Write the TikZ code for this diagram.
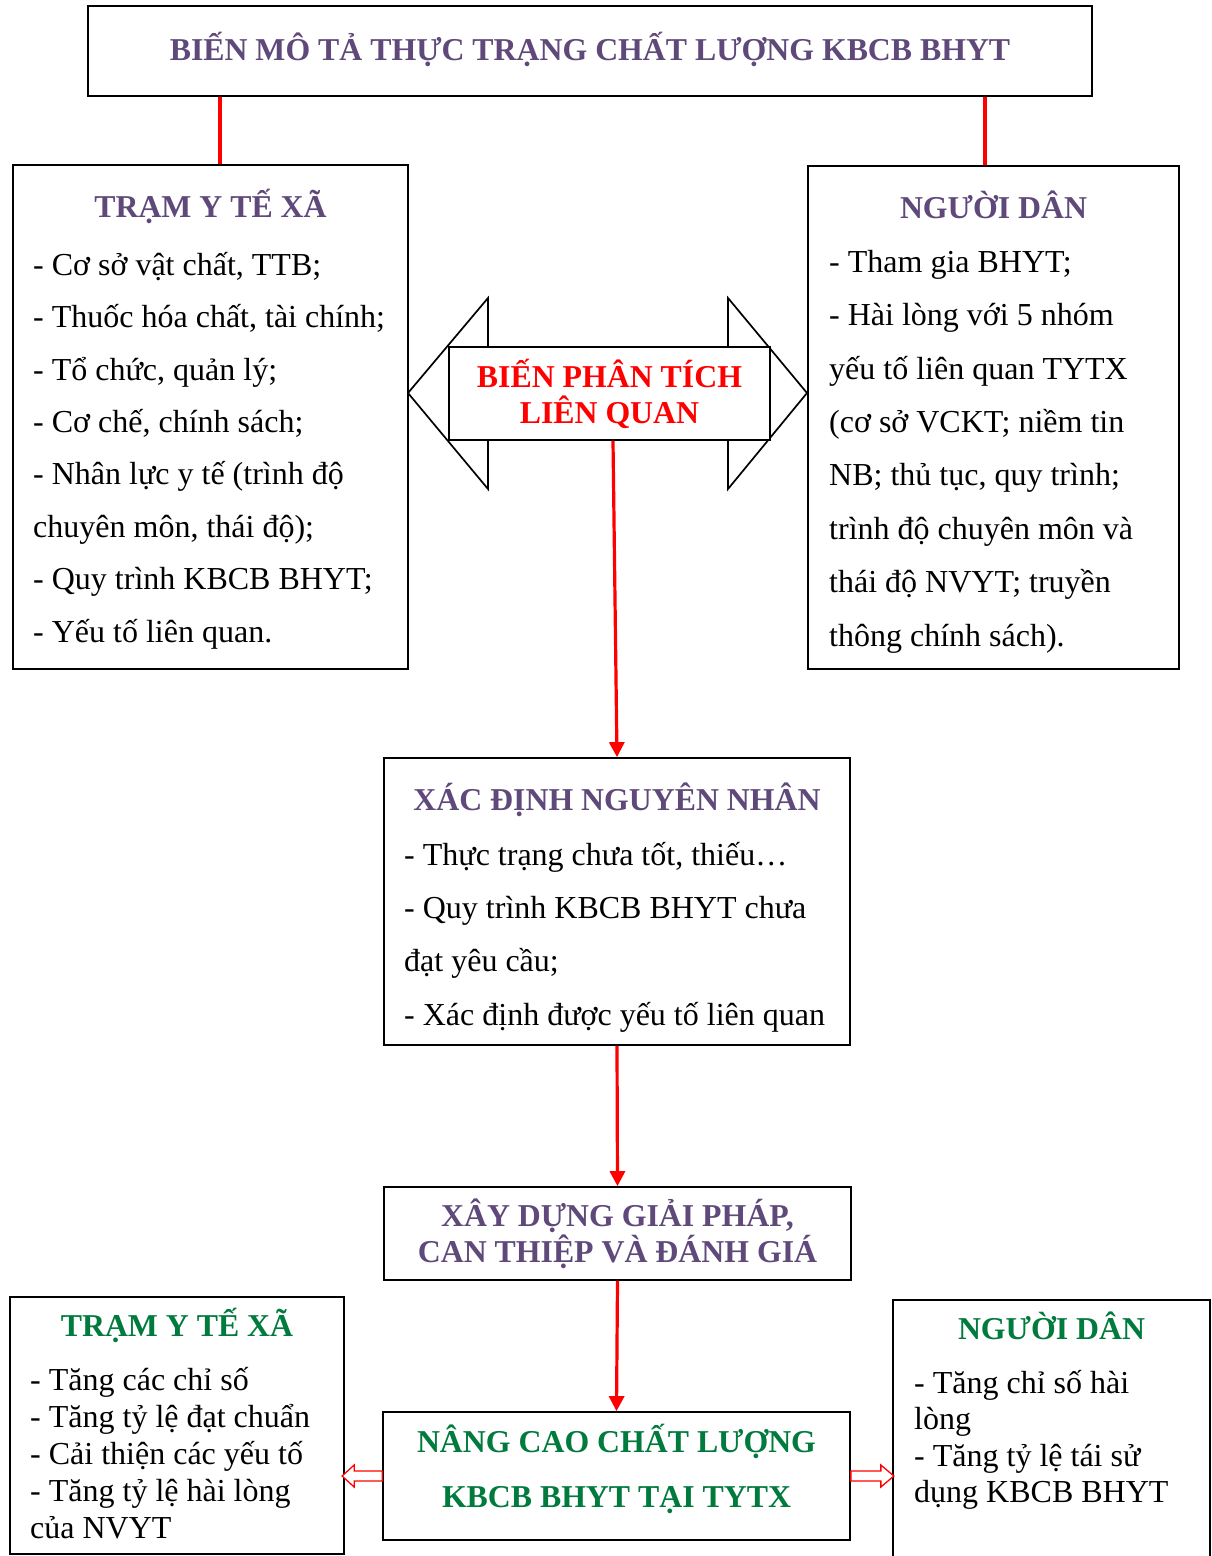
\documentclass[tikz,border=0pt]{standalone}
\usepackage{fontspec}
\setmainfont{Liberation Serif}
\usetikzlibrary{arrows.meta}
\definecolor{tieude}{HTML}{5F497A}
\definecolor{xanh}{RGB}{0,122,61}
\definecolor{do}{HTML}{FF0000}
\tikzset{
  hop/.style={draw=black, line width=1.7pt, fill=white, inner sep=0pt},
  tieudechu/.style={font=\bfseries\fontsize{31.8}{#1}\selectfont, text=tieude, anchor=base, align=center, inner sep=0pt},
  tieudechu/.default=36,
  noidung/.style={font=\fontsize{32}{#1}\selectfont, align=left, anchor=base west, inner sep=0pt},
  noi/.style={draw=do, line width=3.2pt},
  muiten/.style={noi, -{Triangle[length=15pt,width=15pt]}},
  rong/.style={draw=do, line width=1.3pt, fill=white}
}
\begin{document}
\begin{tikzpicture}[x=1pt,y=-1pt]
                    \fill[white] (0,0) rectangle (1212,1556);
                    \useasboundingbox (0,0) rectangle (1212,1556);

                    % Marking box BIEN MO TA
                    \node [hop, minimum width=1004pt, minimum height=90pt] (bien) at (590,51) {};%
                    \node [tieudechu] (bienchu) at (590,60) {BIẾN MÔ TẢ THỰC TRẠNG CHẤT LƯỢNG KBCB BHYT};%

                    % Marking box TRAM Y TE XA
                    \node [hop, minimum width=395pt, minimum height=504pt] (tram) at (210.5,417) {};%
                    \node [tieudechu] (tramchu) at (210.5,217) {TRẠM Y TẾ XÃ};%
                    \node [noidung=52.4] (tramnd) at (33,642) {- Cơ sở vật chất, TTB;\\- Thuốc hóa chất, tài chính;\\- Tổ chức, quản lý;\\- Cơ chế, chính sách;\\- Nhân lực y tế (trình độ\\chuyên môn, thái độ);\\- Quy trình KBCB BHYT;\\- Yếu tố liên quan.};%

                    % Marking box NGUOI DAN
                    \node [hop, minimum width=371pt, minimum height=503pt] (dan) at (993.5,417.5) {};%
                    \node [tieudechu] (danchu) at (993.5,218) {NGƯỜI DÂN};%
                    \node [noidung=53.4] (dannd) at (829,646) {- Tham gia BHYT;\\- Hài lòng với 5 nhóm\\yếu tố liên quan TYTX\\(cơ sở VCKT; niềm tin\\NB; thủ tục, quy trình;\\trình độ chuyên môn và\\thái độ NVYT; truyền\\thông chính sách).};%

                    % Drawing segment BIEN TRAM
                    \draw [noi] (bien.south -| 220,0) -- (tram.north -| 220,0);%

                    % Drawing segment BIEN DAN
                    \draw [noi] (bien.south -| 985,0) -- (dan.north -| 985,0);%

                    % Drawing double arrow
                    \draw [line width=1.7pt, fill=white] (408,393) -- (488,298) -- (488,347) -- (728,347) -- (728,298) -- (807,393) -- (728,489) -- (728,440) -- (488,440) -- (488,489) -- cycle;%

                    % Marking box BIEN PHAN TICH
                    \node [hop, minimum width=321pt, minimum height=93pt] (phan) at (609.5,393.5) {};%
                    \node [tieudechu, text=do] (phanchu) at (609.5,423) {BIẾN PHÂN TÍCH\\LIÊN QUAN};%

                    % Marking box XAC DINH
                    \node [hop, minimum width=466pt, minimum height=287pt] (xac) at (617,901.5) {};%
                    \node [tieudechu] (xacchu) at (617,810) {XÁC ĐỊNH NGUYÊN NHÂN};%
                    \node [noidung=53.3] (xacnd) at (404,1025) {- Thực trạng chưa tốt, thiếu…\\- Quy trình KBCB BHYT chưa\\đạt yêu cầu;\\- Xác định được yếu tố liên quan};%

                    % Marking box XAY DUNG
                    \node [hop, minimum width=467pt, minimum height=93pt] (giaiphap) at (617.5,1233.5) {};%
                    \node [tieudechu] (giaiphapchu) at (617.5,1262) {XÂY DỰNG GIẢI PHÁP,\\CAN THIỆP VÀ ĐÁNH GIÁ};%

                    % Marking box NANG CAO
                    \node [hop, minimum width=467pt, minimum height=128pt] (nang) at (616.5,1476) {};%
                    \node [tieudechu=55, text=xanh] (nangchu) at (616.5,1507) {NÂNG CAO CHẤT LƯỢNG\\KBCB BHYT TẠI TYTX};%

                    % Marking box TRAM Y TE XA (ket qua)
                    \node [hop, minimum width=334pt, minimum height=257pt] (tramkq) at (177,1425.5) {};%
                    \node [tieudechu, text=xanh] (tramkqchu) at (177,1336) {TRẠM Y TẾ XÃ};%
                    \node [noidung=37] (tramkqnd) at (30,1538) {- Tăng các chỉ số\\- Tăng tỷ lệ đạt chuẩn\\- Cải thiện các yếu tố\\- Tăng tỷ lệ hài lòng\\của NVYT};%

                    % Marking box NGUOI DAN (ket qua)
                    \node [hop, minimum width=317pt, minimum height=280pt] (dankq) at (1051.5,1440) {};%
                    \node [tieudechu, text=xanh] (dankqchu) at (1051.5,1339) {NGƯỜI DÂN};%
                    \node [noidung=36.5] (dankqnd) at (914,1502.5) {- Tăng chỉ số hài\\lòng\\- Tăng tỷ lệ tái sử\\dụng KBCB BHYT};%

                    % Drawing segment PHAN XAC
                    \draw [muiten] ([xshift=3.5pt]phan.south) -- (xac.north);%

                    % Drawing segment XAC GIAIPHAP
                    \draw [muiten] (xac.south) -- (giaiphap.north);%

                    % Drawing segment GIAIPHAP NANG
                    \draw [muiten] (giaiphap.south) -- (nang.north);%

                    % Drawing hollow arrow NANG TRAM
                    \draw [rong] (nang.west) ++(0,-5) -- ++(-28,0) -- ++(0,-6) -- ++(-12,11) -- ++(12,11) -- ++(0,-6) -- ++(28,0) -- cycle;%

                    % Drawing hollow arrow NANG DAN
                    \draw [rong] (nang.east) ++(0,-5) -- ++(30,0) -- ++(0,-6) -- ++(13,11) -- ++(-13,11) -- ++(0,-6) -- ++(-30,0) -- cycle;%
\end{tikzpicture}
\end{document}
